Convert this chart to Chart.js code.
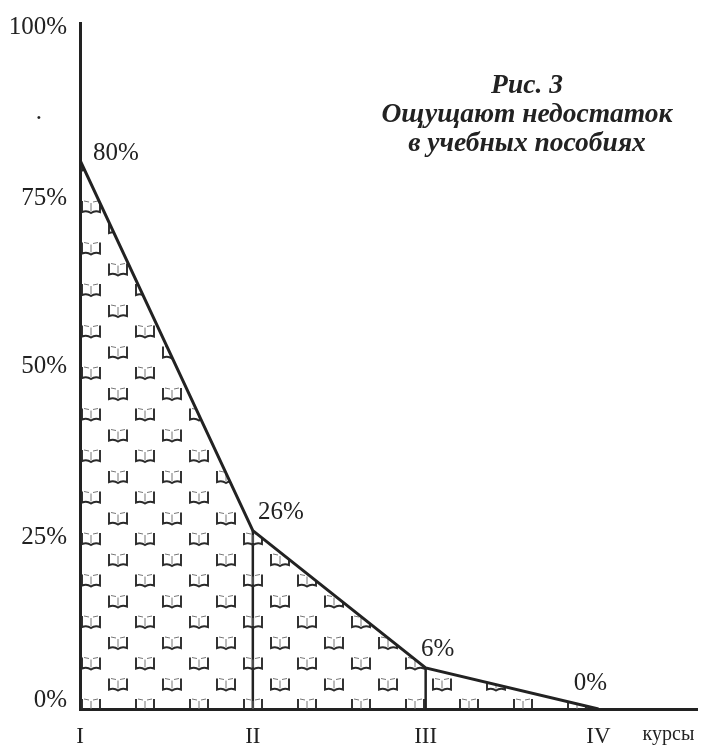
<!DOCTYPE html>
<html>
<head>
<meta charset="utf-8">
<style>
    html, body { margin: 0; padding: 0; background: #fff; }
    canvas { display: block; }
</style>
<script src="https://cdn.jsdelivr.net/npm/chart.js@4.4.8/dist/chart.umd.min.js"></script>
</head>
<body>
<canvas id="chart" width="708" height="746"></canvas>
<script>
/*  Data  */

const courses = ['I', 'II', 'III', 'IV'];
const shortage = [80, 26, 6, 0];
const shortageLabels = ['80%', '26%', '6%', '0%'];

const yTickValues = [0, 25, 50, 75, 87, 100];
const yTickLabels = ['0%', '25%', '50%', '75%', '.', '100%'];

const xAxisName = 'курсы';
const titleLines = ['Рис. 3', 'Ощущают недостаток', 'в учебных пособиях'];


/*  Styles  */

const INK = '#222';
const SERIF = '"Liberation Serif", serif';
const xAxisNamePos = 3.405;
const xMax = 3.57;
const labelOffsets = [[36, -7], [28, -18], [12, -18], [-8, -26]];


/*  Methods  */

function drawBook(c, x, y) {
    /* One small open book, the fill mark of the area */
    c.strokeStyle = '#2a2a2a';
    c.lineWidth = 1.9;
    c.beginPath();
    c.moveTo(x - 9, y - 6);
    c.lineTo(x - 9, y + 5);
    c.quadraticCurveTo(x - 4, y + 3, x, y + 6);
    c.quadraticCurveTo(x + 4, y + 3, x + 9, y + 5);
    c.lineTo(x + 9, y - 6);
    c.stroke();
    c.lineWidth = 1;
    c.strokeStyle = '#777';
    c.beginPath();
    c.moveTo(x - 7, y - 6);
    c.lineTo(x - 2, y - 5);
    c.moveTo(x + 7, y - 6);
    c.lineTo(x + 2, y - 5);
    c.moveTo(x, y - 4);
    c.lineTo(x, y + 4);
    c.stroke();
}

function bookPattern() {
    /* Tile of staggered books, lined up with the canvas origin */
    let tile = document.createElement('canvas');
    tile.width = 54;
    tile.height = 83;
    let c = tile.getContext('2d');
    drawBook(c, 37, 41);
    drawBook(c, 37, 82.5);
    drawBook(c, 37, -0.5);
    drawBook(c, 10, 20.5);
    drawBook(c, 64, 20.5);
    drawBook(c, 10, 62);
    drawBook(c, 64, 62);
    return document.getElementById('chart').getContext('2d').createPattern(tile, 'repeat');
}

const textPlugin = {
    id: 'textPlugin',
    afterDatasetsDraw(chart) {
        let ctx = chart.ctx;
        let x = chart.scales.x;
        let y = chart.scales.y;
        ctx.save();
        ctx.fillStyle = INK;
        ctx.textAlign = 'center';
        ctx.textBaseline = 'middle';

        ctx.font = '25px ' + SERIF;
        shortageLabels.forEach(function(label, i) {
            ctx.fillText(label,
                x.getPixelForValue(i) + labelOffsets[i][0],
                y.getPixelForValue(shortage[i]) + labelOffsets[i][1]);
        });

        ctx.font = 'italic bold 27.5px ' + SERIF;
        titleLines.forEach(function(line, i) {
            ctx.fillText(line, 527, 86 + i * 29);
        });
        ctx.restore();
    }
};


/*  Chart  */

const datasets = [{
    data: shortage.map(function(v, i) { return { x: i, y: v }; }),
    borderColor: INK,
    borderWidth: 3,
    backgroundColor: bookPattern(),
    fill: 'origin',
    pointRadius: 0,
    tension: 0
}];

// inner drop lines at II and III
[1, 2].forEach(function(i) {
    datasets.push({
        data: [{ x: i, y: 0 }, { x: i, y: shortage[i] }],
        borderColor: INK,
        borderWidth: 2.5,
        fill: false,
        pointRadius: 0
    });
});

new Chart(document.getElementById('chart'), {
    type: 'line',
    data: { datasets: datasets },
    options: {
        responsive: false,
        animation: false,
        layout: { padding: { top: 23, right: 11, left: 0, bottom: 0 } },
        plugins: { legend: { display: false }, tooltip: { enabled: false }, title: { display: false } },
        scales: {
            x: {
                type: 'linear',
                min: 0,
                max: xMax,
                grid: { display: false },
                border: { display: true, color: INK, width: 3 },
                afterBuildTicks: function(scale) {
                    scale.ticks = courses.map(function(c, i) { return { value: i }; });
                    scale.ticks.push({ value: xAxisNamePos });
                },
                afterFit: function(scale) { scale.height = 37; },
                ticks: {
                    autoSkip: false,
                    maxRotation: 0,
                    padding: 6,
                    color: INK,
                    font: function(ctx) {
                        let isName = ctx.tick && ctx.tick.value === xAxisNamePos;
                        return { family: SERIF, size: isName ? 20 : 23 };
                    },
                    callback: function(value) {
                        return value === xAxisNamePos ? xAxisName : courses[value];
                    }
                }
            },
            y: {
                min: 0,
                max: 100,
                grid: { display: false },
                border: { display: true, color: INK, width: 3 },
                afterBuildTicks: function(scale) {
                    scale.ticks = yTickValues.map(function(v) { return { value: v }; });
                },
                afterFit: function(scale) { scale.width = 80; },
                ticks: {
                    autoSkip: false,
                    padding: 5,
                    color: INK,
                    font: function(ctx) {
                        let v = ctx.tick ? ctx.tick.value : 50;
                        let lineHeight = 1.2;
                        if (v === 0) lineHeight = 0.72;
                        if (v === 75 || v === 100) lineHeight = 0.32;
                        return { family: SERIF, size: 25, lineHeight: lineHeight };
                    },
                    callback: function(value) {
                        let label = yTickLabels[yTickValues.indexOf(value)];
                        // the 0% label sits a little above the axis, 75% and 100% a little below their level
                        if (value === 0) return [label, ''];
                        if (value === 75 || value === 100) return ['', label];
                        return label === '.' ? '.\u2003' : label;
                    }
                }
            }
        }
    },
    plugins: [textPlugin]
});
</script>
</body>
</html>
